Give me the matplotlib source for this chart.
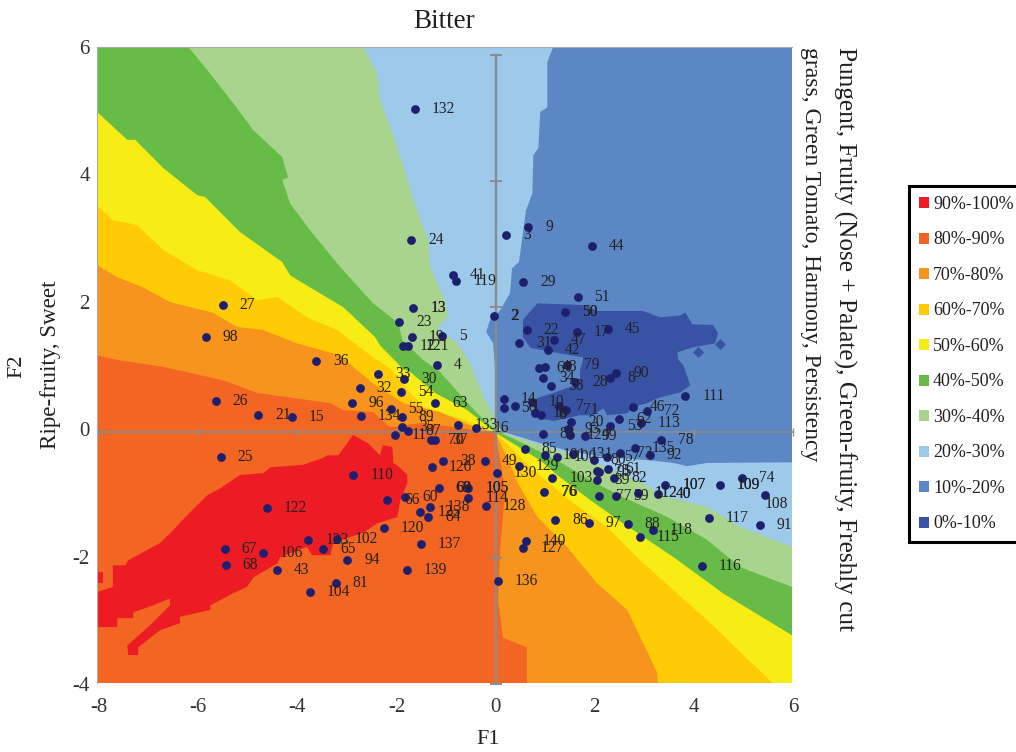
import matplotlib.pyplot as plt
from matplotlib.patches import Patch

plt.rcParams['font.family'] = ['Liberation Serif', 'DejaVu Serif']
plt.rcParams['axes.unicode_minus'] = False

# preference bands, top of legend first
band_labels = ['90%-100%', '80%-90%', '70%-80%', '60%-70%', '50%-60%',
               '40%-50%', '30%-40%', '20%-30%', '10%-20%', '0%-10%']
band_colors = ['#ED1C24', '#F26522', '#F7941D', '#FFCB05', '#F7EC13',
               '#66BC46', '#A8D48D', '#9DC9EB', '#5B87C5', '#3953A4']

# band edges (each one closed through the lower left corner)
edge_20_x = [1.19, 1.07, 1.07, .93, .89, .79, .77, .64, .56, .50, .36, .32, .12, -.08, -.16, -.02, .02, .02, .26, .93, 1.59, 2.28, 3.14, 3.61, 3.89, 4.29, 6, 6, -8, -8]
edge_20_y = [6.04, 5.80, 5.09, 5.02, 4.45, 4.34, 3.74, 3.47, 3.00, 2.66, 2.56, 2.17, 1.90, 1.75, 1.56, 1.38, .96, .02, -.03, -.19, -.33, -.41, -.46, -.50, -.55, -.50, -.49, -4, -4, 6.04]
edge_30_x = [-2.64, -2.36, -2.30, -2.05, -1.79, -1.63, -1.33, -1.29, -.99, -.93, -1.09, -1.15, -.79, -.52, -.34, -.18, .02, .16, .93, 1.59, 2.28, 2.94, 3.49, 4.29, 4.96, 6, 6, -8, -8]
edge_30_y = [6.04, 5.63, 5.20, 4.69, 4.06, 3.63, 3.00, 2.58, 2.06, 1.82, 1.67, 1.56, 1.43, 1.12, .77, .49, .20, -.03, -.22, -.38, -.57, -.80, -1.04, -1.19, -1.51, -1.82, -4, -4, 6.04]
edge_40_x = [-6.16, -5.78, -5.26, -4.85, -4.27, -4.15, -4.27, -4.11, -3.71, -3.10, -2.44, -1.93, -1.85, -1.43, -1.09, -.68, -.34, .02, .58, 1.27, 1.93, 2.60, 3.49, 4.29, 4.96, 6, 6, -8, -8]
edge_40_y = [6.04, 5.68, 5.16, 4.73, 4.31, 3.99, 3.95, 3.58, 3.16, 2.58, 2.01, 1.70, 1.43, 1.12, .93, .57, .28, .02, -.19, -.46, -.77, -1.04, -1.35, -1.71, -2.14, -2.45, -4, -4, 6.04]
edge_50_x = [-8, -7.39, -7.23, -6.67, -5.98, -5.82, -5.12, -4.27, -4.11, -3.71, -3.04, -2.40, -2.30, -1.85, -1.69, -1.19, -.54, .02, .93, 1.27, 1.93, 2.60, 3.61, 4.61, 6, 6, -8]
edge_50_y = [5.02, 4.58, 4.58, 4.14, 3.71, 3.68, 3.13, 2.66, 2.45, 2.26, 1.95, 1.48, 1.35, .99, .93, .60, .33, -.02, -.46, -.69, -1.08, -1.45, -1.98, -2.55, -3.21, -4, -4]
edge_60_x = [-8, -7.68, -7.19, -6.67, -5.98, -5.32, -4.77, -4.37, -3.77, -3.16, -2.44, -2.10, -1.69, -1.43, -.58, .02, .79, 1.59, 2.28, 2.94, 4.29, 5.66, -8]
edge_60_y = [3.55, 3.32, 3.24, 2.85, 2.53, 2.37, 2.06, 2.11, 1.79, 1.59, 1.16, .99, .60, .38, .17, -.02, -.61, -1.13, -1.51, -2.03, -2.97, -4, -4]
edge_70_x = [-8, -7.59, -7.07, -6.53, -5.66, -5.18, -4.65, -3.97, -3.10, -2.76, -2.44, -1.83, -1.09, -.48, .02, .26, .48, .87, 1.47, 2.07, 2.68, 3.28, 3.30, -8]
edge_70_y = [2.61, 2.42, 2.26, 2.03, 1.86, 1.64, 1.59, 1.38, 1.19, .96, .75, .44, .30, .09, -.02, -.41, -.82, -1.35, -1.82, -2.39, -2.81, -3.79, -4, -4]
edge_80_x = [-8, -7.59, -6.67, -5.46, -4.77, -3.30, -3.04, -2.44, -2.10, -1.43, .02, .12, .22, .12, .08, .18, .66, .66, -8]
edge_80_y = [1.19, 1.12, 1.01, .80, .60, .44, .33, .30, .06, .13, -.03, -.46, -.93, -1.87, -2.66, -3.25, -3.40, -4, -4]

# islands at both ends of the scale
island_90_x = [-8, -7.68, -7.68, -7.43, -7.37, -6.73, -6.47, -6.12, -5.78, -5.52, -5.12, -4.65, -4.51, -3.85, -3.44, -3.36, -3.14, -2.96, -2.84, -2.54, -2.30, -2.24, -2.05, -2.03, -1.89, -1.75, -1.75, -1.89, -1.95, -2.36, -2.64, -3.24, -3.30, -3.67, -3.77, -4.31, -4.37, -4.85, -4.98, -5.26, -5.72, -5.72, -6.33, -6.33, -6.73, -7.17, -7.17, -7.37, -7.39, -6.93, -6.53, -6.53, -6.87, -7.27, -7.27, -7.59, -7.59, -8]
island_90_y = [-2.53, -2.45, -2.11, -2.11, -2.03, -1.76, -1.56, -1.27, -1.01, -.90, -.69, -.66, -.57, -.53, -.42, -.38, -.38, -.19, -.06, -.19, -.38, -.22, -.25, -.50, -.58, -.69, -.82, -1.08, -1.35, -1.45, -1.60, -1.75, -1.95, -1.95, -1.82, -1.98, -2.08, -2.30, -2.45, -2.55, -2.74, -2.81, -2.92, -3.02, -3.13, -3.40, -3.52, -3.52, -3.37, -3.05, -2.74, -2.63, -2.74, -2.85, -2.94, -2.94, -3.08, -3.08]
chip_90_x = [-8, -7.88, -7.88, -8]
chip_90_y = [-2.22, -2.22, -2.39, -2.39]
island_0_x = [.87, 1.87, 2.07, 3.00, 3.34, 3.75, 3.85, 3.99, 4.41, 4.51, 4.45, 4.01, 3.69, 3.71, 3.81, 3.95, 3.75, 3.34, 3.08, 2.80, 2.68, 2.28, 2.20, 1.99, 1.73, 1.19, .93, .79, .87, 1.19, 1.73, 1.73, 1.79, 1.79, 1.27, .73, .58, .58]
island_0_y = [2.01, 1.98, 1.89, 1.89, 1.79, 1.82, 1.87, 1.68, 1.67, 1.54, 1.38, 1.32, 1.24, 1.12, 1.04, .72, .61, .53, .44, .38, .28, .25, .36, .25, .25, .16, .20, .41, .52, .60, .75, .96, 1.12, 1.16, 1.23, 1.31, 1.48, 1.75]
speck_0_x = [4.55, 4.11]
speck_0_y = [1.37, 1.24]

# samples
sample_labels = [
    '132', '24', '27', '98', '36', '13', '23', '19', '12', '121', '5', '4',
    '41', '119', '3', '9', '44', '29', '51', '50', '2', '22', '17', '45', '47', '31', '42',
    '64', '48', '79', '34', '58', '28', '8', '90', '111',
    '14', '56', '1', '10', '18', '6', '7', '71', '20', '93', '124', '83', '99', '53', '62', '46', '72', '113',
    '133', '16', '26', '21', '15', '25', '96', '134', '32', '33', '30', '54', '63', '55', '89', '35', '87', '11', '70', '37',
    '110', '122', '67', '106', '68', '43', '104', '81', '123', '102', '65', '94', '120', '139', '66', '60', '138', '125', '84', '137', '126', '69',
    '38', '105', '114', '128', '49', '130', '129', '76', '103', '85', '101', '100', '131', '80', '57', '73', '135', '92', '78',
    '61', '95', '75', '39', '82', '77', '59', '112', '40', '107', '109', '74', '108', '91', '117', '118', '88', '97', '86', '115', '116', '140', '127', '136']
f1_scores = [
    -1.60, -1.67, -5.47, -5.81, -3.58, -1.63, -1.91, -1.66, -1.84, -1.73, -1.05, -1.15,
    -.83, -.76, .24, .69, 1.97, .58, 1.68, 1.42, -.01, .66, 1.66, 2.29, 1.21, .50, 1.08,
    .91, 1.03, 1.46, .98, 1.15, 1.63, 2.34, 2.46, 3.85,
    .20, .20, .42, .76, .83, .95, 1.30, 1.45, 1.55, 1.48, 1.52, .98, 1.83, 2.34, 2.52, 2.79, 3.08, 2.96,
    -.73, -.36, -5.61, -4.75, -4.08, -5.51, -2.87, -2.68, -2.71, -2.34, -1.81, -1.88, -1.19, -2.07, -1.86, -1.86, -1.73, -2.00, -1.28, -1.19,
    -2.84, -4.58, -5.43, -4.66, -5.41, -4.37, -3.71, -3.19, -3.74, -3.16, -3.44, -2.96, -2.22, -1.76, -2.15, -1.79, -1.30, -1.49, -1.33, -1.48, -1.26, -1.12,
    -1.03, -.52, -.52, -.17, -.19, .05, .50, 1.01, 1.17, .62, 1.03, 1.26, 1.58, 2.01, 2.27, 2.54, 2.84, 3.14, 3.36,
    2.30, 2.12, 2.07, 2.07, 2.42, 2.11, 2.46, 2.89, 3.31, 3.45, 4.54, 5.00, 5.45, 5.35, 4.33, 3.20, 2.69, 1.91, 1.23, 2.94, 4.18, .64, .59, .08]
f2_scores = [
    5.07, 3.00, 1.98, 1.48, 1.10, 1.93, 1.71, 1.48, 1.34, 1.34, 1.49, 1.04,
    2.45, 2.36, 3.08, 3.21, 2.91, 2.35, 2.11, 1.88, 1.81, 1.59, 1.56, 1.61, 1.43, 1.38, 1.28,
    .99, 1.01, 1.04, .84, .71, .78, .84, .91, .56,
    .50, .36, .39, .46, .28, .25, .39, .34, .15, .03, -.06, -.05, -.07, .08, .19, .38, .32, .13,
    .09, .05, .47, .25, .23, -.40, .45, .24, .68, .90, .82, .62, .45, .35, .23, .06, .01, -.06, -.14, -.14,
    -.69, -1.21, -1.85, -1.91, -2.10, -2.19, -2.53, -2.39, -1.71, -1.69, -1.86, -2.03, -1.53, -2.19, -1.09, -1.03, -1.19, -1.27, -1.35, -1.77, -.56, -.90,
    -.47, -.90, -1.05, -1.18, -.47, -.66, -.55, -.95, -.74, -.28, -.38, -.40, -.36, -.46, -.41, -.34, -.27, -.37, -.14,
    -.60, -.64, -.63, -.77, -.74, -1.02, -1.02, -.98, -.99, -.85, -.85, -.73, -1.00, -1.47, -1.37, -1.55, -1.46, -1.45, -1.40, -1.66, -2.12, -1.72, -1.83, -2.35]

# these labels are printed twice in the source figure and look heavier
doubled_labels = ['2', '13', '50', '69', '76', '105', '107', '109', '112', '40']

fig = plt.figure(figsize=(10.16, 7.52), dpi=100)
W, H = 1016, 752


def place(left, top, right, bottom):
    return [left / W, 1 - bottom / H, (right - left) / W, (bottom - top) / H]


# the coloured map is pasted slightly off the printed scale, so map, scale
# labels and grey cross each get their own axes
ax = fig.add_axes(place(97, 47, 792, 683))
ax.set_xlim(-8, 6)
ax.set_ylim(-3.96, 6.04)
ax.set_facecolor(band_colors[8])
ax.set_xticks([])
ax.set_yticks([])

ax.fill(edge_20_x, edge_20_y, color=band_colors[7], lw=0)
ax.fill(edge_30_x, edge_30_y, color=band_colors[6], lw=0)
ax.fill(edge_40_x, edge_40_y, color=band_colors[5], lw=0)
ax.fill(edge_50_x, edge_50_y, color=band_colors[4], lw=0)
ax.fill(edge_60_x, edge_60_y, color=band_colors[3], lw=0)
ax.fill(edge_70_x, edge_70_y, color=band_colors[2], lw=0)
ax.fill(edge_80_x, edge_80_y, color=band_colors[1], lw=0)
ax.fill(island_90_x, island_90_y, color=band_colors[0], lw=0)
ax.fill(chip_90_x, chip_90_y, color=band_colors[0], lw=0)
ax.fill(island_0_x, island_0_y, color=band_colors[9], lw=0)
ax.scatter(speck_0_x, speck_0_y, marker='D', s=32, color=band_colors[9], lw=0)

for side in ['right', 'bottom']:
    ax.spines[side].set_visible(False)
for side in ['left', 'top']:
    ax.spines[side].set_color('#AAAAAA')
    ax.spines[side].set_linewidth(0.8)

scale = fig.add_axes(place(99, 47, 793, 684))
scale.patch.set_alpha(0)
scale.set_xlim(-8, 6)
scale.set_ylim(-4, 6)
scale.set_xticks(range(-8, 7, 2))
scale.set_yticks(range(-4, 7, 2))
scale.tick_params(length=0, labelsize=15, colors='#333333')
scale.tick_params(axis='x', pad=10)
scale.tick_params(axis='y', pad=6.5)
for spine in scale.spines.values():
    spine.set_visible(False)

cross = fig.add_axes(place(99, 55, 793, 684))
cross.patch.set_alpha(0)
cross.set_xlim(-8, 6)
cross.set_ylim(-4, 6)
cross.set_xticks([t for t in range(-8, 7, 2) if t != 0])
cross.set_yticks([t for t in range(-4, 7, 2) if t != 0])
cross.tick_params(axis='x', direction='inout', length=6, width=1, color='#8C8C8C', labelbottom=False)
cross.tick_params(axis='y', direction='inout', length=8, width=1.4, color='#8C8C8C', labelleft=False)
cross.spines['left'].set_position(('data', 0))
cross.spines['bottom'].set_position(('data', 0))
cross.spines['left'].set_color('#8C8C8C')
cross.spines['bottom'].set_color('#8C8C8C')
cross.spines['left'].set_linewidth(1.7)
cross.spines['bottom'].set_linewidth(1.3)
cross.spines['right'].set_visible(False)
cross.spines['top'].set_visible(False)

cross.scatter(f1_scores, f2_scores, s=40, color='#1F1F6F', lw=0, zorder=4, clip_on=False,
              transform=ax.transData)
for name, x, y in zip(sample_labels, f1_scores, f2_scores):
    dx, dy = (0, -7) if name == '108' else (12.2, 0)
    cross.annotate(name, (x, y), xycoords=ax.transData, xytext=(dx, dy), textcoords='offset points',
                   fontsize=11.2, color='#231F20', va='center', zorder=5)
    if name in doubled_labels:
        cross.annotate(name, (x, y), xycoords=ax.transData, xytext=(dx + 0.35, dy), textcoords='offset points',
                       fontsize=11.2, color='#231F20', va='center', zorder=5)

fig.text(444 / W, 1 - 22 / H, 'Bitter', fontsize=19.5, ha='center', va='center', color='#231F20')
fig.text(488 / W, 1 - 740 / H, 'F1', fontsize=16, ha='center', va='center', color='#231F20')
fig.text(17 / W, 1 - 366 / H, 'F2', fontsize=16, rotation=90, ha='center', va='center', color='#231F20')
fig.text(51 / W, 1 - 365 / H, 'Ripe-fruity, Sweet', fontsize=16.6, rotation=90, ha='center', va='center', color='#231F20')
fig.text(845 / W, 1 - 47 / H, 'Pungent, Fruity (Nose + Palate), Green-fruity, Freshly cut', fontsize=18.2,
         rotation=270, ha='center', va='top', color='#231F20')
fig.text(810 / W, 1 - 47 / H, 'grass, Green Tomato, Harmony, Persistency', fontsize=17,
         rotation=270, ha='center', va='top', color='#231F20')

handles = [Patch(facecolor=c, edgecolor='none') for c in band_colors]
fig.legend(handles, band_labels, loc='upper left', bbox_to_anchor=(909 / W, 1 - 186 / H), borderaxespad=0,
           fontsize=13, frameon=True, fancybox=False, edgecolor='black', framealpha=1,
           handlelength=0.56, handleheight=0.56, handletextpad=0.22, labelspacing=1.025, borderpad=0.55,
           labelcolor='#231F20').get_frame().set_linewidth(2.2)

fig.savefig('out.png', dpi=100)
